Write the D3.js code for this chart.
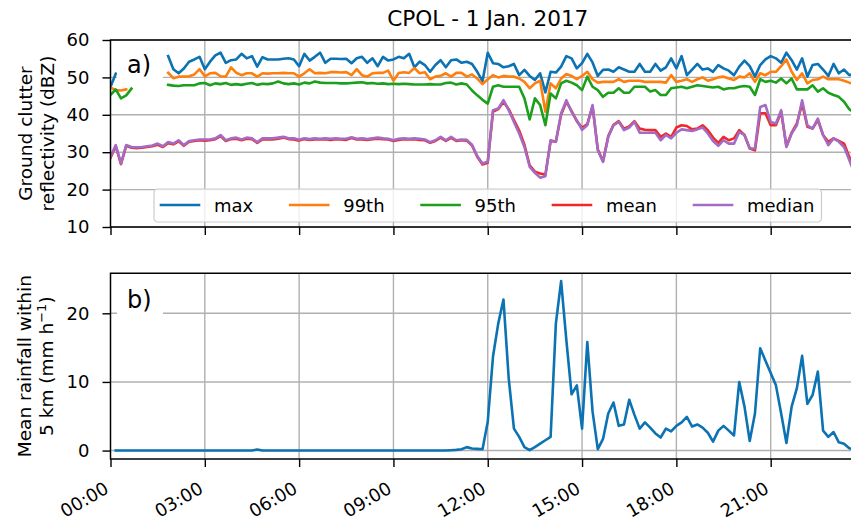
<!DOCTYPE html>
<html><head><meta charset="utf-8">
<script src="https://cdn.jsdelivr.net/npm/d3@7/dist/d3.min.js"></script>
<style>
body{margin:0;background:#fff}
svg{display:block}
text{font-family:"DejaVu Sans",sans-serif;fill:#000}
</style>
</head><body>
<svg id="c" width="851" height="520"></svg>
<script>
// ---------------- DATA ----------------
const title = "CPOL - 1 Jan. 2017";
const xTickLabels = ["00:00","03:00","06:00","09:00","12:00","15:00","18:00","21:00"];
const topTicks = [10,20,30,40,50,60];
const botTicks = [0,10,20];
const seriesNames = ["max","99th","95th","mean","median"];
const seriesColors = ["#0b72b3","#ff7f0e","#1ca01c","#f02828","#a36bc4"];
const startDay = Date.UTC(2017,0,1);
// 10-minute scans, 00:00 .. 23:50 (144 values each)
const times = d3.range(144).map(i => new Date(startDay + i*600000));

const maxRefl = [47.5,51.0,null,null,null,null,null,null,null,null,null,55.7,
52.2,51.1,52.4,54.2,54.8,55.5,52.2,54.2,55.9,56.6,53.9,54.6,
54.8,56.3,55.1,55.7,52.9,55.4,54.8,54.8,54.8,55.0,55.1,54.8,
53.0,56.3,54.5,55.5,56.6,53.9,55.0,55.0,54.9,55.0,53.8,55.1,
55.5,53.9,55.1,53.0,55.5,54.5,54.8,55.5,55.1,56.3,52.7,54.2,
53.3,51.5,53.3,54.6,52.7,54.6,54.8,53.9,54.2,53.6,51.5,49.0,
56.6,53.8,53.6,52.7,53.0,53.6,50.6,52.0,50.4,49.3,51.1,46.0,
51.5,51.3,52.9,55.7,55.1,52.4,53.8,56.3,54.0,50.4,52.0,52.1,
51.5,52.7,52.1,51.5,51.5,53.6,51.5,51.5,53.6,51.8,52.7,55.1,
52.4,55.7,50.6,52.1,53.6,52.1,52.4,51.5,53.3,52.4,51.8,50.6,
52.9,54.5,53.0,50.2,53.3,54.8,55.7,55.1,53.9,56.6,54.6,52.1,
55.1,50.2,53.3,53.6,52.1,50.4,53.6,51.1,52.1,50.6,51.0,50.5];

const p99Refl = [47.3,46.6,46.5,46.8,null,null,null,null,null,null,null,51.25,
49.8,50.2,50.2,50.3,50.8,52.2,50.3,51.1,51.2,50.3,50.2,52.7,
51.25,50.6,51.1,51.1,50.2,51.1,51.0,51.1,51.1,51.2,51.1,51.1,
50.2,51.1,52.2,51.1,51.2,51.1,51.4,51.4,51.3,51.4,50.6,52.2,
50.6,50.2,51.1,51.2,51.2,51.8,49.1,51.2,51.4,51.2,52.5,51.1,
51.4,49.5,50.2,50.4,51.1,50.2,51.2,51.2,50.2,50.8,49.7,48.2,
49.5,50.6,50.0,50.4,50.2,50.2,49.7,48.8,47.1,48.4,49.1,40.8,
48.4,47.1,49.7,50.9,50.4,49.5,50.4,51.5,49.5,48.6,48.8,48.8,
48.8,49.5,48.8,49.1,49.1,49.1,48.8,48.8,48.8,48.8,48.6,50.6,
48.8,49.1,49.5,48.8,49.5,50.0,49.1,49.5,50.0,50.2,49.7,49.3,
50.2,50.0,51.1,48.8,51.1,50.6,51.5,51.5,53.0,54.8,51.5,49.3,
51.1,48.4,49.3,49.5,50.2,49.5,49.5,49.5,49.1,48.6,48.2,48.0];

const p95Refl = [45.3,46.8,44.4,45.2,47.0,null,null,null,null,null,null,48.0,
47.8,47.7,47.9,47.9,47.9,48.4,48.5,47.9,48.4,48.2,48.5,48.0,
48.2,48.0,48.3,48.5,48.0,48.3,48.2,48.4,48.9,48.4,48.2,48.4,
48.1,48.6,48.4,48.9,48.6,48.5,48.5,48.5,48.4,48.4,48.5,48.6,
48.7,48.4,48.5,48.3,48.4,48.2,48.3,48.2,48.3,48.2,48.1,48.1,
48.1,48.2,48.1,48.1,48.5,48.6,48.1,48.4,48.1,46.5,45.2,44.0,
43.0,47.5,47.9,47.5,47.5,47.5,47.5,44.4,38.75,44.4,42.6,37.2,
45.7,44.4,48.4,49.1,48.6,47.9,46.6,50.2,47.5,46.6,44.8,45.9,
45.9,47.1,45.9,45.9,47.5,47.5,47.5,46.2,46.6,45.3,45.3,47.1,
47.3,47.5,47.1,47.5,47.9,47.7,47.5,47.3,47.5,46.8,47.1,47.1,
47.5,47.7,47.5,45.3,49.5,48.8,49.1,48.6,49.7,48.4,49.7,46.8,
46.8,46.8,47.9,46.2,47.1,45.9,45.3,44.8,43.5,41.5,40.5,40.0];

const meanRefl = [28.5,31.6,26.8,31.7,31.2,31.1,31.2,31.4,31.6,32.0,31.4,32.4,
32.1,32.9,31.7,32.8,33.0,33.2,33.1,33.2,33.5,34.3,33.0,33.5,
33.6,33.2,33.6,33.5,32.5,33.4,33.5,33.4,33.6,33.9,33.5,33.4,
33.1,33.5,33.3,33.4,33.4,33.5,33.3,33.5,33.4,33.3,33.8,33.4,
33.4,33.3,33.5,33.6,33.5,33.4,33.0,33.3,33.5,33.4,33.5,33.3,
33.2,32.5,33.0,33.9,33.0,33.8,33.0,33.2,33.1,31.8,28.8,26.7,
27.2,40.8,41.5,43.5,41.5,38.6,35.8,32.0,26.5,24.8,24.3,24.0,
33.0,32.8,40.0,43.5,41.0,38.3,36.5,37.5,42.3,30.8,27.6,34.3,
37.3,38.3,36.3,36.9,38.3,36.3,36.0,35.9,35.9,34.1,35.0,34.1,
36.6,37.2,37.0,36.1,36.3,37.2,35.9,33.9,32.5,34.1,33.2,33.7,
35.9,34.6,31.0,30.5,40.4,40.4,37.2,37.2,40.8,31.6,35.2,37.7,
43.0,36.8,36.3,38.6,34.6,32.8,33.7,33.0,32.3,28.75,25.6,24.0];

const medianRefl = [28.8,31.9,27.0,31.9,31.4,31.3,31.4,31.6,31.8,32.3,31.6,32.7,
32.3,33.2,31.9,33.0,33.2,33.4,33.4,33.4,33.7,34.6,33.2,33.7,
33.9,33.4,33.9,33.7,32.7,33.7,33.7,33.7,33.9,34.1,33.7,33.7,
33.3,33.7,33.5,33.7,33.6,33.7,33.6,33.7,33.6,33.6,34.0,33.6,
33.7,33.5,33.7,33.9,33.7,33.6,33.2,33.6,33.7,33.6,33.7,33.6,
33.4,32.7,33.2,34.1,33.2,34.1,33.2,33.4,33.3,32.0,29.0,27.0,
27.5,41.25,41.7,43.9,41.25,38.1,35.0,31.4,26.1,24.5,23.2,23.6,
33.2,32.8,40.4,43.9,40.8,38.5,36.0,37.2,42.6,30.5,27.4,34.1,
37.2,38.1,35.9,36.6,38.1,35.2,35.2,35.2,35.2,33.2,34.6,33.7,
35.2,36.1,35.9,35.7,36.1,36.6,35.0,33.0,31.7,33.2,32.3,32.3,
35.4,34.6,31.0,31.0,42.1,42.6,38.1,37.7,41.25,31.4,35.0,37.2,
43.9,37.2,36.3,39.0,34.6,31.9,33.7,32.8,31.4,27.9,24.3,23.0];

const rainfall = [null,0,0,0,0,0,0,0,0,0,0,0,
0,0,0,0,0,0,0,0,0,0,0,0,
0,0,0,0,0.15,0,0,0,0,0,0,0,
0,0,0,0,0,0,0,0,0,0,0,0,
0,0,0,0,0,0,0,0,0,0,0,0,
0,0,0,0,0,0.05,0.1,0.2,0.5,0.3,0.25,0.2,
4.2,13.7,18.5,22.0,10.5,3.2,2.0,0.5,0.05,0.5,1.0,1.5,
2.0,18.5,24.7,16.1,8.2,9.5,3.2,15.8,5.7,0.2,1.7,5.4,
7.0,3.6,3.8,7.4,5.2,3.2,4.1,3.35,2.5,1.9,3.2,2.8,
3.6,4.1,4.9,3.5,3.8,3.35,2.6,1.3,2.9,3.6,2.9,2.2,
10.0,6.4,1.4,5.4,14.9,13.1,11.3,9.5,5.4,1.1,6.4,9.1,
13.8,6.8,8.1,11.5,2.9,2.0,2.7,1.2,1.0,0.35,0.1,0.1];

const reflSeries = [maxRefl,p99Refl,p95Refl,meanRefl,medianRefl];

// ---------------- LAYOUT ----------------
const svg = d3.select("#c");
const L = 110.5, R = 865;
const TOP = {y0:40, y1:227}, BOT = {y0:273.3, y1:459};
const FS = 18;
const GRID = "#b0b0b0";

const x = d3.scaleUtc().domain([new Date(startDay), new Date(startDay+86400000)]).range([L,R]);
const xTickTimes = xTickLabels.map(s => new Date(startDay + (+s.slice(0,2))*3600000));
const yTop = d3.scaleLinear().domain([10,60]).range([TOP.y1,TOP.y0]);
const yBot = d3.scaleLinear().domain([-1.23,25.83]).range([BOT.y1,BOT.y0]);

svg.append("defs").selectAll("clipPath").data([["ct",TOP],["cb",BOT]]).join("clipPath")
  .attr("id",d=>d[0]).append("rect")
  .attr("x",L).attr("y",d=>d[1].y0).attr("width",R-L).attr("height",d=>d[1].y1-d[1].y0);

function panel(y, box, ticks) {
  const g = svg.append("g");
  g.append("g").selectAll("line").data(ticks).join("line")
    .attr("x1",L).attr("x2",R).attr("y1",d=>y(d)).attr("y2",d=>y(d))
    .attr("stroke",GRID).attr("stroke-width",1.4);
  g.append("g").selectAll("line").data(xTickTimes).join("line")
    .attr("x1",d=>x(d)).attr("x2",d=>x(d)).attr("y1",box.y0).attr("y2",box.y1)
    .attr("stroke",GRID).attr("stroke-width",1.4);
  return g;
}
function frame(y, box, ticks, withLabels) {
  const ya = svg.append("g").attr("transform",`translate(${L},0)`)
    .call(d3.axisLeft(y).tickValues(ticks).tickSize(8).tickPadding(13).tickFormat(d3.format("d")));
  ya.select(".domain").remove();
  ya.selectAll(".tick line").attr("stroke","#000").attr("stroke-width",1.4);
  ya.selectAll(".tick text").attr("font-size",FS).attr("font-family","DejaVu Sans");
  const xa = svg.append("g").attr("transform",`translate(0,${box.y1})`)
    .call(d3.axisBottom(x).tickValues(xTickTimes).tickSize(8).tickFormat((d,i)=>xTickLabels[i]));
  xa.select(".domain").remove();
  xa.selectAll(".tick line").attr("stroke","#000").attr("stroke-width",1.4);
  if (withLabels) {
    xa.selectAll(".tick text").attr("font-size",FS).attr("font-family","DejaVu Sans")
      .attr("text-anchor","end").attr("dy",null).attr("y",null)
      .attr("transform","translate(-1,33) rotate(-30)");
  } else {
    xa.selectAll(".tick text").remove();
  }
  const s = svg.append("g").attr("stroke","#000").attr("stroke-width",1.4).attr("fill","none");
  s.append("path").attr("d",`M${R},${box.y0}H${L}V${box.y1}H${R}`).attr("stroke-linecap","square");
}

// ---- top panel ----
panel(yTop, TOP, topTicks);
const lineTop = d3.line().defined(d=>d[1]!=null).x(d=>x(d[0])).y(d=>yTop(d[1]));
svg.append("g").attr("clip-path","url(#ct)").selectAll("path").data(reflSeries).join("path")
  .attr("d",s=>lineTop(s.map((v,i)=>[times[i],v])))
  .attr("fill","none").attr("stroke",(d,i)=>seriesColors[i]).attr("stroke-width",2.6)
  .attr("stroke-linejoin","round").attr("stroke-linecap","square");
frame(yTop, TOP, topTicks, false);

// legend
(function(){
  const hl=38, tp=15, cs=37, bp=7;
  const tmp = svg.append("g");
  const widths = seriesNames.map(n=>{
    const t = tmp.append("text").attr("font-size",FS).text(n);
    return t.node().getComputedTextLength();
  });
  tmp.remove();
  const total = 2*bp + d3.sum(widths.map(w=>hl+tp+w)) + cs*(seriesNames.length-1);
  const x0 = (L+R)/2 - total/2;
  const lg = svg.append("g");
  lg.append("rect").attr("x",x0).attr("y",189).attr("width",total).attr("height",33)
    .attr("rx",4).attr("fill","#fff").attr("fill-opacity",0.8).attr("stroke","#cccccc").attr("stroke-width",1.2);
  let cx = x0 + bp;
  seriesNames.forEach((n,i)=>{
    lg.append("line").attr("x1",cx).attr("x2",cx+hl).attr("y1",205).attr("y2",205)
      .attr("stroke",seriesColors[i]).attr("stroke-width",2.6).attr("stroke-linecap","square");
    lg.append("text").attr("x",cx+hl+tp).attr("y",211.5).attr("font-size",FS).text(n);
    cx += hl+tp+widths[i]+cs;
  });
})();

svg.append("rect").attr("x",117).attr("y",49).attr("width",46).attr("height",30).attr("fill","#fff");
svg.append("text").attr("x",127).attr("y",72.5).attr("font-size",24).text("a)");

// ---- bottom panel ----
panel(yBot, BOT, botTicks);
const lineBot = d3.line().defined(d=>d[1]!=null).x(d=>x(d[0])).y(d=>yBot(d[1]));
svg.append("g").attr("clip-path","url(#cb)").append("path")
  .attr("d",lineBot(rainfall.map((v,i)=>[times[i],v])))
  .attr("fill","none").attr("stroke",seriesColors[0]).attr("stroke-width",2.6)
  .attr("stroke-linejoin","round").attr("stroke-linecap","square");
frame(yBot, BOT, botTicks, true);
svg.append("rect").attr("x",117).attr("y",283).attr("width",46).attr("height",33).attr("fill","#fff");
svg.append("text").attr("x",127).attr("y",308).attr("font-size",24).text("b)");

// ---- titles & labels ----
svg.append("text").attr("x",(L+R)/2).attr("y",26).attr("text-anchor","middle")
  .attr("font-size",21.6).text(title);

const yl1 = svg.append("g").attr("transform",`translate(32,${(TOP.y0+TOP.y1)/2}) rotate(-90)`)
  .attr("text-anchor","middle").attr("font-size",18.5);
yl1.append("text").attr("y",0).text("Ground clutter");
yl1.append("text").attr("y",21.5).text("reflectivity (dBZ)");

const yl2 = svg.append("g").attr("transform",`translate(31,${(BOT.y0+BOT.y1)/2}) rotate(-90)`)
  .attr("text-anchor","middle").attr("font-size",18.5);
yl2.append("text").attr("y",0).text("Mean rainfall within");
const t2 = yl2.append("text").attr("y",21.5);
t2.append("tspan").text("5 km (mm h");
t2.append("tspan").attr("dy",-7).attr("font-size",13).text("\u22121");
t2.append("tspan").attr("dy",7).text(")");
</script>
</body></html>
